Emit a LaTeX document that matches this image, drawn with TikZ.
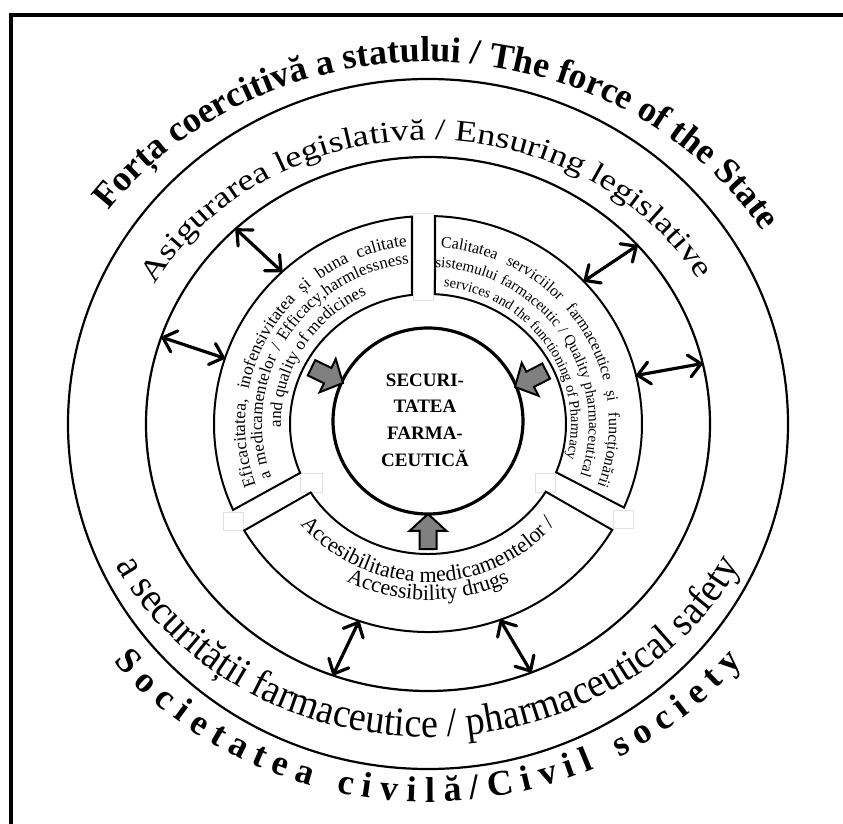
\documentclass[tikz,border=0pt]{standalone}
\usepackage{fontspec}
\setmainfont{Liberation Serif}
\newfontfamily\widefont[FakeStretch=1.22]{Liberation Serif}
\newfontfamily\narrowfont[FakeStretch=0.93]{Liberation Serif}
\usetikzlibrary{decorations.text,arrows.meta}

% text set along an elliptic arc: x radius, y radius, start, end, alignment, text
\newcommand{\arctext}[6]{
  \path[decorate,decoration={text along path,text align={#5},text={#6}}]
    (#3:#1 and #2) arc[start angle=#3,end angle=#4,x radius=#1,y radius=#2];
}
% grey block arrow pointing at #1 degrees, tip at #2
\newcommand{\blockarrow}[2]{
  \draw[push,shift={#2},rotate=#1] (0,0) -- (-17,18.5) -- (-17,8.5) -- (-35,8.5)
    -- (-35,-8.5) -- (-17,-8.5) -- (-17,-18.5) -- cycle;
}

\begin{document}
\begin{tikzpicture}[x=1pt,y=1pt,
  ring/.style={line width=2.2pt},
  sector/.style={line width=2pt},
  gapbox/.style={draw=black!12,fill=white,line width=0.6pt},
  link/.style={line width=3.2pt,>={Straight Barb[length=12pt,width=22pt,round]},<->},
  push/.style={line width=2pt,fill=black!50,line join=miter}]
  \useasboundingbox (-428,-400) rectangle (415,424);
  \draw[line width=3.5pt] (415,409) -- (-417,409) -- (-417,-400);% open frame

  \draw[ring] (0,0) ellipse[x radius=360,y radius=345];
  \draw[ring] (0,0) ellipse[x radius=282,y radius=267];

  % white patches in the gaps of the ring
  \draw[gapbox] (-15,211) rectangle (5,124);
  \draw[gapbox] (-205,-88) rectangle (-185,-106);
  \draw[gapbox] (-128,-49) rectangle (-106,-68);
  \draw[gapbox] (107,-49) rectangle (127,-68);
  \draw[gapbox] (185,-86) rectangle (205,-104);

  % the three sectors
  \draw[sector] (204.4:214 and 208) arc[start angle=204.4,end angle=94.3,x radius=214,y radius=208]
    -- (96.7:138 and 130) arc[start angle=96.7,end angle=202.1,x radius=138,y radius=130] -- cycle;
  \draw[sector] (88.1:214 and 208) arc[start angle=88.1,end angle=-23.7,x radius=214,y radius=208]
    -- (-21.8:138 and 130) arc[start angle=-21.8,end angle=87.1,x radius=138,y radius=130] -- cycle;
  \draw[sector] (210.8:214 and 208) arc[start angle=210.8,end angle=329.4,x radius=214,y radius=208]
    -- (328.6:138 and 130) arc[start angle=328.6,end angle=211.8,x radius=138,y radius=130] -- cycle;

  \draw[line width=3.2pt] (0,3) ellipse[x radius=95,y radius=93];
  \node[align=center,inner sep=0pt,font=\fontsize{19}{26.7}\selectfont\bfseries] (core) at (-3,4)
    {SECURI-\\TATEA\\FARMA-\\CEUTICĂ};

  \blockarrow{-25.8}{(-85,41)}
  \blockarrow{207}{(87,37)}
  \blockarrow{90}{(0,-90)}

  % double arrows between ring and sectors
  \foreach \o/\i [count=\k] in {133/133,161/161.6,42/43.3,13.1/13.5,250.3/251.2,291.5/289.7}{
    \coordinate (s\k) at (\o:282 and 267);
    \coordinate (r\k) at (\i:214 and 208);
    \draw[link] (s\k) -- (r\k);
  }

  % outer texts
  \arctext{395}{362}{162}{14}{center}{|\fontsize{36}{36}\selectfont\bfseries|Forța coercitivă a statului / The force of the State}
  \arctext{314}{284}{165}{16}{center}{|\widefont\fontsize{30}{30}\selectfont|Asigurarea legislativă / Ensuring legislative}
  \arctext{350}{313}{198}{342}{center}{|\narrowfont\fontsize{41}{41}\selectfont|a securității farmaceutice / pharmaceutical safety}
  \arctext{405}{378}{219}{321}{fit to path}{|\fontsize{36}{36}\selectfont\bfseries|Societatea civilă/Civil society}

  % left sector
  \arctext{183}{179}{200}{96.5}{fit to path stretching spaces}{|\fontsize{17.5}{17.5}\selectfont|Eficacitatea, inofensivitatea și buna calitate}
  \arctext{166}{161}{199.5}{96.5}{fit to path stretching spaces}{|\fontsize{17}{17}\selectfont|a medicamentelor / Efficacy,harmlessness}
  \arctext{147}{142}{200}{96.5}{center}{|\fontsize{17}{17}\selectfont|and quality of medicines}

  % right sector
  \arctext{181}{177}{86}{-20.5}{fit to path stretching spaces}{|\fontsize{16}{16}\selectfont|Calitatea serviciilor farmaceutice și funcționării}
  \arctext{161}{157}{87.5}{-19}{fit to path stretching spaces}{|\fontsize{15.2}{15.2}\selectfont|sistemului farmaceutic / Quality pharmaceutical}
  \arctext{143}{138}{86}{-17}{center}{|\fontsize{14.5}{14.5}\selectfont|services and the functioning of Pharmacy}

  % bottom sector
  \arctext{165}{158}{200}{340}{center}{|\fontsize{22}{22}\selectfont|Accesibilitatea medicamentelor /}
  \arctext{183}{176}{200}{340}{center}{|\fontsize{22}{22}\selectfont|Accessibility drugs}
\end{tikzpicture}
\end{document}
